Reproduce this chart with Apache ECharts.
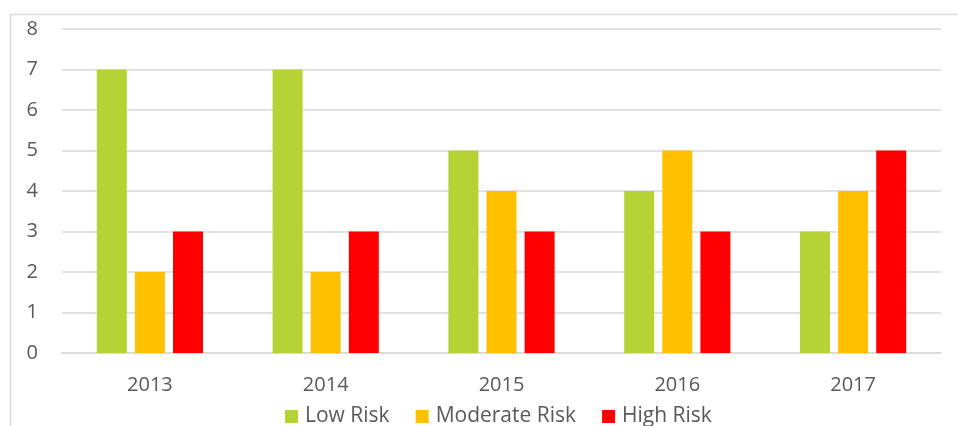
<!DOCTYPE html>
<html>
<head>
<meta charset="utf-8">
<script src="https://cdn.jsdelivr.net/npm/echarts@6/dist/echarts.min.js"></script>
<style>
  html, body { margin: 0; padding: 0; background: #fff; }
  #chart { width: 958px; height: 426px; }
</style>
</head>
<body>
<div id="chart"></div>
<script>
// chart data
var years = ["2013", "2014", "2015", "2016", "2017"];
var lowRisk = [7, 7, 5, 4, 3];
var moderateRisk = [2, 2, 4, 5, 4];
var highRisk = [3, 3, 3, 3, 5];
var yTicks = [0, 1, 2, 3, 4, 5, 6, 7, 8];

var myChart = echarts.init(document.getElementById('chart'));
var txt = '#595959';
var font = '"Open Sans", "Noto Sans", sans-serif';

function barSeries(name, data, color) {
    return {
        name: name,
        type: 'bar',
        data: data,
        barWidth: 30,
        barGap: '27%',
        itemStyle: { color: color },
        animation: false
    };
}

var option = {
    animation: false,
    graphic: [{
        type: 'rect',
        shape: { x: 10.5, y: 14.5, width: 1000, height: 500 },
        style: { fill: 'none', stroke: '#d9d9d9', lineWidth: 1.5 },
        silent: true
    }],
    grid: { left: 62, right: 17, top: 29, bottom: 73 },
    legend: {
        top: 401,
        left: 280,
        itemWidth: 13,
        itemHeight: 13,
        itemGap: 26,
        icon: 'rect',
        textStyle: { color: txt, fontSize: 21, fontFamily: font, padding: [0, 0, 0, 2] },
        data: ['Low Risk', 'Moderate Risk', 'High Risk']
    },
    xAxis: {
        type: 'category',
        data: years,
        axisLine: { lineStyle: { color: '#d9d9d9', width: 1.5 } },
        axisTick: { show: false },
        axisLabel: { color: txt, fontSize: 20, fontFamily: font, margin: 22 }
    },
    yAxis: {
        type: 'value',
        min: yTicks[0],
        max: yTicks[yTicks.length - 1],
        interval: 1,
        axisLine: { show: false },
        axisTick: { show: false },
        splitLine: { lineStyle: { color: '#d9d9d9', width: 1.5 } },
        axisLabel: { color: txt, fontSize: 20, fontFamily: font, margin: 24 }
    },
    series: [
        barSeries('Low Risk', lowRisk, '#b5d335'),
        barSeries('Moderate Risk', moderateRisk, '#ffc000'),
        barSeries('High Risk', highRisk, '#ff0000')
    ]
};
myChart.setOption(option);
</script>
</body>
</html>
